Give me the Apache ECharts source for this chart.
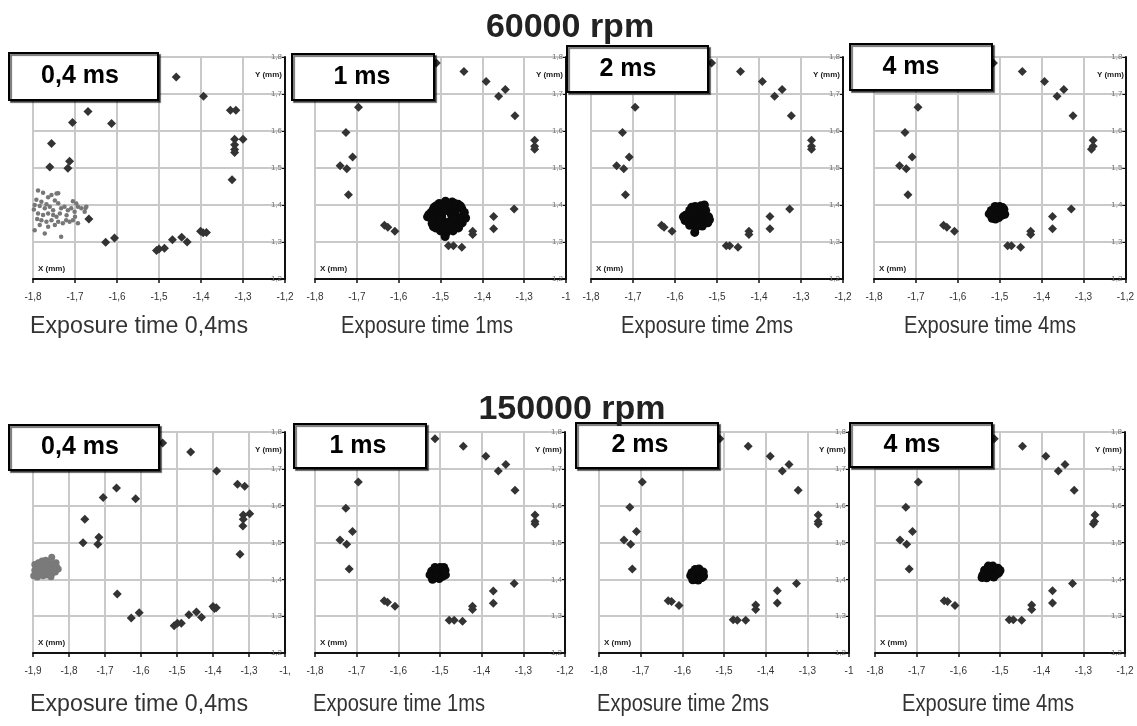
<!DOCTYPE html>
<html>
<head>
<meta charset="utf-8">
<script src="https://cdn.jsdelivr.net/npm/echarts@6/dist/echarts.min.js"></script>
<style>
html,body{margin:0;padding:0;background:#fff;}
#chart{width:1137px;height:726px;}
</style>
</head>
<body>
<div id="chart"></div>
<script>
// ---------- Text ----------
const rowTitles = ['60000 rpm', '150000 rpm'];
const boxLabels = ['0,4 ms', '1 ms', '2 ms', '4 ms'];
const captions = ['Exposure time 0,4ms', 'Exposure time 1ms', 'Exposure time 2ms', 'Exposure time 4ms'];

// ---------- Tick labels ----------
const yTicks = ['1,2', '1,3', '1,4', '1,5', '1,6', '1,7', '1,8'];
const xTicksStd = ['-1,8', '-1,7', '-1,6', '-1,5', '-1,4', '-1,3', '-1,2'];
const xTicksCut = ['-1,8', '-1,7', '-1,6', '-1,5', '-1,4', '-1,3', '-1'];
const xTicksWide = ['-1,9', '-1,8', '-1,7', '-1,6', '-1,5', '-1,4', '-1,3', '-1,'];

// ---------- 60000 rpm, 0,4 ms ----------
const orbitA04 = [[-1.459,1.746],[-1.394,1.694],[-1.330,1.656],[-1.317,1.656],[-1.320,1.578],[-1.300,1.578],
  [-1.320,1.563],[-1.320,1.550],[-1.320,1.542],[-1.326,1.468],[-1.706,1.623],[-1.669,1.653],[-1.613,1.620],
  [-1.756,1.566],[-1.760,1.503],[-1.713,1.518],[-1.717,1.499],[-1.667,1.362],[-1.627,1.299],[-1.606,1.311],
  [-1.506,1.277],[-1.500,1.281],[-1.487,1.283],[-1.468,1.306],[-1.446,1.313],[-1.433,1.300],[-1.401,1.329],
  [-1.395,1.325],[-1.387,1.326]];
const clusterA04 = [[-1.788,1.439],[-1.776,1.433],[-1.756,1.427],[-1.764,1.421],[-1.744,1.431],[-1.792,1.414],
  [-1.780,1.409],[-1.796,1.400],[-1.784,1.397],[-1.772,1.391],[-1.760,1.395],[-1.752,1.386],[-1.740,1.405],
  [-1.733,1.391],[-1.725,1.395],[-1.717,1.386],[-1.709,1.391],[-1.701,1.382],[-1.693,1.395],[-1.685,1.391],
  [-1.677,1.382],[-1.673,1.395],[-1.788,1.377],[-1.776,1.373],[-1.764,1.377],[-1.752,1.373],[-1.744,1.368],
  [-1.736,1.377],[-1.780,1.359],[-1.768,1.355],[-1.756,1.359],[-1.740,1.355],[-1.729,1.351],[-1.721,1.359],
  [-1.713,1.355],[-1.705,1.359],[-1.693,1.351],[-1.784,1.346],[-1.764,1.341],[-1.748,1.346],[-1.796,1.332],
  [-1.772,1.323],[-1.733,1.314],[-1.740,1.432],[-1.697,1.404],[-1.675,1.392],[-1.705,1.410],[-1.798,1.388],
  [-1.768,1.402],[-1.748,1.412],[-1.720,1.372],[-1.700,1.368],[-1.790,1.362]];

// ---------- 60000 rpm, 1 ms ----------
const orbitA1 = [[-1.510,1.784],[-1.444,1.761],[-1.391,1.734],[-1.345,1.712],[-1.361,1.694],[-1.322,1.641],
  [-1.275,1.575],[-1.275,1.559],[-1.275,1.551],[-1.696,1.664],[-1.726,1.596],[-1.710,1.530],[-1.740,1.506],
  [-1.724,1.498],[-1.720,1.428],[-1.634,1.345],[-1.626,1.340],[-1.609,1.329],[-1.481,1.290],[-1.469,1.290],
  [-1.449,1.286],[-1.423,1.329],[-1.423,1.320],[-1.373,1.369],[-1.373,1.336],[-1.324,1.389]];
const clusterA1 = [[-1.445,1.372],[-1.449,1.390],[-1.458,1.402],[-1.472,1.408],[-1.488,1.410],[-1.503,1.404],
  [-1.515,1.394],[-1.522,1.380],[-1.525,1.366],[-1.520,1.350],[-1.512,1.338],[-1.500,1.330],[-1.485,1.327],
  [-1.470,1.330],[-1.457,1.338],[-1.448,1.352],[-1.462,1.370],[-1.465,1.385],[-1.475,1.393],[-1.490,1.395],
  [-1.503,1.388],[-1.509,1.373],[-1.507,1.357],[-1.498,1.345],[-1.484,1.341],[-1.470,1.347],[-1.463,1.358],
  [-1.474,1.374],[-1.478,1.382],[-1.494,1.381],[-1.497,1.368],[-1.491,1.354],[-1.476,1.357],[-1.531,1.368],
  [-1.489,1.315],[-1.452,1.397],[-1.517,1.342],[-1.455,1.345],[-1.440,1.365],[-1.443,1.380],[-1.452,1.360],
  [-1.460,1.395],[-1.466,1.404],[-1.480,1.403],[-1.495,1.402],[-1.510,1.398],[-1.518,1.387],[-1.528,1.374],
  [-1.516,1.358],[-1.507,1.343],[-1.493,1.336],[-1.478,1.336],[-1.464,1.340],[-1.455,1.362],[-1.485,1.388],
  [-1.468,1.362],[-1.502,1.360],[-1.480,1.348]];

// ---------- 60000 rpm, 2 ms ----------
const orbitA2 = [[-1.513,1.784],[-1.444,1.761],[-1.392,1.734],[-1.345,1.712],[-1.363,1.694],[-1.323,1.641],
  [-1.275,1.575],[-1.275,1.559],[-1.275,1.551],[-1.695,1.664],[-1.725,1.596],[-1.709,1.530],[-1.739,1.506],
  [-1.722,1.498],[-1.718,1.428],[-1.632,1.345],[-1.626,1.340],[-1.607,1.329],[-1.478,1.290],[-1.470,1.290],
  [-1.450,1.286],[-1.424,1.329],[-1.424,1.320],[-1.374,1.369],[-1.374,1.336],[-1.327,1.389]];
const clusterA2 = [[-1.547,1.368],[-1.535,1.372],[-1.560,1.370],[-1.550,1.385],[-1.540,1.390],[-1.558,1.352],
  [-1.545,1.350],[-1.530,1.358],[-1.568,1.360],[-1.575,1.372],[-1.565,1.385],[-1.552,1.396],[-1.538,1.398],
  [-1.527,1.385],[-1.520,1.368],[-1.522,1.352],[-1.535,1.343],[-1.550,1.340],[-1.565,1.345],[-1.576,1.358],
  [-1.530,1.400],[-1.518,1.360],[-1.553,1.326],[-1.580,1.368],[-1.560,1.394]];

// ---------- 60000 rpm, 4 ms ----------
const orbitA4 = [[-1.515,1.784],[-1.446,1.761],[-1.393,1.734],[-1.347,1.712],[-1.363,1.694],[-1.325,1.641],
  [-1.277,1.575],[-1.277,1.559],[-1.281,1.551],[-1.695,1.664],[-1.726,1.596],[-1.709,1.530],[-1.739,1.506],
  [-1.723,1.498],[-1.719,1.428],[-1.634,1.345],[-1.626,1.340],[-1.608,1.329],[-1.481,1.290],[-1.472,1.290],
  [-1.450,1.286],[-1.426,1.329],[-1.426,1.320],[-1.374,1.369],[-1.374,1.336],[-1.329,1.389]];
const clusterA4 = [[-1.507,1.380],[-1.497,1.384],[-1.515,1.376],[-1.505,1.392],[-1.495,1.372],[-1.512,1.368],
  [-1.520,1.385],[-1.500,1.396],[-1.490,1.388],[-1.488,1.375],[-1.502,1.366],[-1.518,1.364],[-1.525,1.376],
  [-1.511,1.396],[-1.493,1.393],[-1.510,1.362]];

// ---------- 150000 rpm, 0,4 ms ----------
const orbitB04 = [[-1.540,1.770],[-1.462,1.746],[-1.390,1.694],[-1.332,1.658],[-1.312,1.653],[-1.316,1.575],
  [-1.298,1.578],[-1.316,1.563],[-1.317,1.545],[-1.325,1.468],[-1.668,1.648],[-1.705,1.622],[-1.615,1.619],
  [-1.756,1.563],[-1.761,1.499],[-1.717,1.514],[-1.720,1.495],[-1.666,1.360],[-1.627,1.295],[-1.605,1.309],
  [-1.508,1.274],[-1.499,1.281],[-1.488,1.281],[-1.467,1.304],[-1.446,1.311],[-1.432,1.297],[-1.400,1.326],
  [-1.391,1.323],[-1.396,1.321]];
const clusterB04 = [[-1.895,1.440],[-1.885,1.445],[-1.875,1.450],[-1.865,1.452],[-1.855,1.448],[-1.845,1.442],
  [-1.835,1.435],[-1.830,1.428],[-1.838,1.420],[-1.848,1.415],[-1.860,1.412],[-1.872,1.410],[-1.885,1.415],
  [-1.895,1.425],[-1.890,1.432],[-1.878,1.438],[-1.866,1.440],[-1.853,1.436],[-1.842,1.428],[-1.855,1.425],
  [-1.868,1.425],[-1.880,1.425],[-1.872,1.418],[-1.858,1.418],[-1.848,1.460],[-1.898,1.410],[-1.862,1.432],
  [-1.850,1.407],[-1.888,1.406],[-1.836,1.445]];

// ---------- 150000 rpm, 1 ms ----------
const orbitB1 = [[-1.512,1.782],[-1.444,1.761],[-1.390,1.734],[-1.342,1.712],[-1.360,1.694],[-1.320,1.642],
  [-1.272,1.575],[-1.272,1.557],[-1.272,1.550],[-1.696,1.664],[-1.726,1.593],[-1.710,1.530],[-1.740,1.507],
  [-1.724,1.495],[-1.718,1.428],[-1.634,1.342],[-1.626,1.338],[-1.608,1.327],[-1.478,1.289],[-1.466,1.289],
  [-1.446,1.286],[-1.422,1.327],[-1.422,1.318],[-1.372,1.368],[-1.372,1.335],[-1.322,1.389]];
const clusterB1 = [[-1.506,1.417],[-1.496,1.420],[-1.515,1.414],[-1.505,1.428],[-1.494,1.408],[-1.513,1.404],
  [-1.520,1.422],[-1.500,1.432],[-1.488,1.425],[-1.487,1.412],[-1.502,1.402],[-1.518,1.400],[-1.524,1.412],
  [-1.512,1.432],[-1.491,1.432],[-1.508,1.408]];

// ---------- 150000 rpm, 2 ms ----------
const orbitB2 = [[-1.510,1.782],[-1.442,1.761],[-1.389,1.734],[-1.344,1.712],[-1.360,1.694],[-1.322,1.642],
  [-1.274,1.575],[-1.274,1.557],[-1.274,1.550],[-1.696,1.664],[-1.726,1.596],[-1.710,1.530],[-1.740,1.507],
  [-1.724,1.495],[-1.720,1.428],[-1.634,1.342],[-1.626,1.340],[-1.608,1.329],[-1.478,1.290],[-1.468,1.289],
  [-1.448,1.289],[-1.424,1.330],[-1.424,1.318],[-1.372,1.369],[-1.372,1.336],[-1.326,1.389]];
const clusterB2 = [[-1.564,1.413],[-1.556,1.417],[-1.572,1.410],[-1.563,1.424],[-1.553,1.405],[-1.570,1.401],
  [-1.577,1.418],[-1.560,1.428],[-1.550,1.420],[-1.549,1.409],[-1.562,1.398],[-1.575,1.399],[-1.580,1.410],
  [-1.569,1.427]];

// ---------- 150000 rpm, 4 ms ----------
const orbitB4 = [[-1.514,1.782],[-1.446,1.761],[-1.390,1.734],[-1.344,1.712],[-1.360,1.694],[-1.322,1.642],
  [-1.272,1.575],[-1.273,1.557],[-1.276,1.550],[-1.696,1.664],[-1.726,1.596],[-1.710,1.530],[-1.740,1.507],
  [-1.724,1.495],[-1.718,1.428],[-1.634,1.342],[-1.626,1.340],[-1.608,1.329],[-1.478,1.290],[-1.468,1.290],
  [-1.448,1.289],[-1.424,1.330],[-1.424,1.318],[-1.374,1.369],[-1.374,1.336],[-1.326,1.389]];
const clusterB4 = [[-1.522,1.422],[-1.512,1.425],[-1.530,1.418],[-1.521,1.432],[-1.510,1.412],[-1.527,1.409],
  [-1.537,1.425],[-1.517,1.436],[-1.505,1.430],[-1.503,1.418],[-1.515,1.406],[-1.532,1.404],[-1.541,1.412],
  [-1.528,1.436],[-1.500,1.424],[-1.543,1.405]];

// ---------- Layout ----------
const FONT = 'Liberation Sans, Arial, sans-serif';
const panels = [
  {g:{left:33, top:57, width:252, height:222}, xmin:-1.8, ticks:xTicksStd, orbit:orbitA04, cluster:clusterA04, cc:'#777', cs:4.5, box:[9,53,149,47], lab:0, tx:80},
  {g:{left:315,top:57, width:251, height:222}, xmin:-1.8, ticks:xTicksCut, orbit:orbitA1, cluster:clusterA1, cc:'#0a0a0a', cs:9, box:[292,54,142,46], lab:1, tx:362},
  {g:{left:591,top:57, width:252, height:222}, xmin:-1.8, ticks:xTicksStd, orbit:orbitA2, cluster:clusterA2, cc:'#0a0a0a', cs:9, box:[567,46,141,46], lab:2, tx:628},
  {g:{left:874,top:57, width:253, height:222}, xmin:-1.8, ticks:xTicksStd, orbit:orbitA4, cluster:clusterA4, cc:'#0a0a0a', cs:9, box:[850,44,142,46], lab:3, tx:911},
  {g:{left:33, top:432,width:252, height:221}, xmin:-1.9, ticks:xTicksWide, orbit:orbitB04, cluster:clusterB04, cc:'#7a7a7a', cs:7, box:[9,425,150,45], lab:0, tx:80},
  {g:{left:315,top:432,width:250, height:221}, xmin:-1.8, ticks:xTicksStd, orbit:orbitB1, cluster:clusterB1, cc:'#0a0a0a', cs:9, box:[294,424,132,44], lab:1, tx:358},
  {g:{left:599,top:432,width:250, height:221}, xmin:-1.8, ticks:xTicksCut, orbit:orbitB2, cluster:clusterB2, cc:'#0a0a0a', cs:9, box:[576,423,142,45], lab:2, tx:640},
  {g:{left:875,top:432,width:250, height:221}, xmin:-1.8, ticks:xTicksStd, orbit:orbitB4, cluster:clusterB4, cc:'#0a0a0a', cs:9, box:[850,423,142,44], lab:3, tx:912}
];
// caption centre positions and target drawn widths (the source captions are condensed)
const captionPos = [[139,327],[427,327],[707,327],[990,327],[139,705],[399,705],[683,705],[988,705]];
const captionWidth = [218,172,172,172,218,172,172,172];
const titlePos = [[570,28],[572,410]];

const measureCtx = document.createElement('canvas').getContext('2d');
function textWidth(t, size) { measureCtx.font = size + 'px ' + FONT; return measureCtx.measureText(t).width; }

const grid = [], xAxis = [], yAxis = [], series = [], graphic = [];
panels.forEach((p, i) => {
  grid.push(Object.assign({containLabel:false}, p.g));
  xAxis.push({
    type:'value', gridIndex:i, min:p.xmin, max:-1.2, interval:0.1,
    axisLine:{show:true, onZero:false, lineStyle:{color:'#111', width:2}},
    axisTick:{show:true, length:4, lineStyle:{color:'#111', width:1.5}},
    splitLine:{show:true, lineStyle:{color:'#c9c9c9', width:2}},
    axisLabel:{fontSize:10, color:'#333', margin:13, fontFamily:FONT,
      formatter:(v)=>{ const k=Math.round((v-p.xmin)*10); return p.ticks[k]!==undefined?p.ticks[k]:''; }}
  });
  yAxis.push({
    type:'value', gridIndex:i, min:1.2, max:1.8, interval:0.1, position:'right',
    axisLine:{show:true, onZero:false, lineStyle:{color:'#111', width:2}},
    axisTick:{show:true, inside:true, length:3, lineStyle:{color:'#111'}},
    splitLine:{show:true, lineStyle:{color:'#c9c9c9', width:2}},
    axisLabel:{inside:true, fontSize:8, color:'#777', margin:3, fontFamily:FONT,
      formatter:(v)=>{ const k=Math.round((v-1.2)*10); return yTicks[k]!==undefined?yTicks[k]:''; }}
  });
  series.push({type:'scatter', xAxisIndex:i, yAxisIndex:i, data:p.cluster, symbol:'circle',
    symbolSize:p.cs, itemStyle:{color:p.cc, opacity:1}, silent:true, animation:false, z:3});
  series.push({type:'scatter', xAxisIndex:i, yAxisIndex:i, data:p.orbit, symbol:'diamond',
    symbolSize:9, itemStyle:{color:'#333', opacity:1}, silent:true, animation:false, z:4});

  const gl = p.g.left, gt = p.g.top, gr = p.g.left + p.g.width, gb = p.g.top + p.g.height;
  graphic.push({type:'text', left:gl+5, top:gb-14, z:50,
    style:{text:'X (mm)', fontSize:8, fill:'#222', fontFamily:FONT, fontWeight:'bold'}});
  graphic.push({type:'text', right:1137-gr+3, top:gt+14, z:50,
    style:{text:'Y (mm)', fontSize:8, fill:'#222', fontFamily:FONT, fontWeight:'bold'}});
  const b = p.box;
  graphic.push({type:'rect', z:100, shape:{x:b[0], y:b[1], width:b[2], height:b[3]},
    style:{fill:'#fff', stroke:'#000', lineWidth:2, shadowColor:'rgba(0,0,0,0.55)', shadowOffsetX:2, shadowOffsetY:2, shadowBlur:1}});
  graphic.push({type:'text', z:101, x:p.tx, y:b[1]+b[3]/2,
    style:{text:boxLabels[p.lab], fontSize:25, fontWeight:'bold', fill:'#000', fontFamily:FONT,
      textAlign:'center', textVerticalAlign:'middle'}});
  const capSize = 23;
  const sx = captionWidth[i] / textWidth(captions[p.lab], capSize);
  graphic.push({type:'text', z:50, x:captionPos[i][0], y:captionPos[i][1], scaleX:sx,
    style:{text:captions[p.lab], fontSize:capSize, fill:'#333', fontFamily:FONT, textAlign:'center', textVerticalAlign:'middle'}});
});
rowTitles.forEach((t, r) => {
  graphic.push({type:'text', z:120, x:titlePos[r][0], y:titlePos[r][1],
    style:{text:t, fontSize:34, fontWeight:'bold', fill:'#222', fontFamily:FONT, textAlign:'center', textVerticalAlign:'middle'}});
});

const chart = echarts.init(document.getElementById('chart'), null, {renderer:'canvas'});
chart.setOption({animation:false, backgroundColor:'#fff', grid, xAxis, yAxis, series, graphic});
</script>
</body>
</html>
